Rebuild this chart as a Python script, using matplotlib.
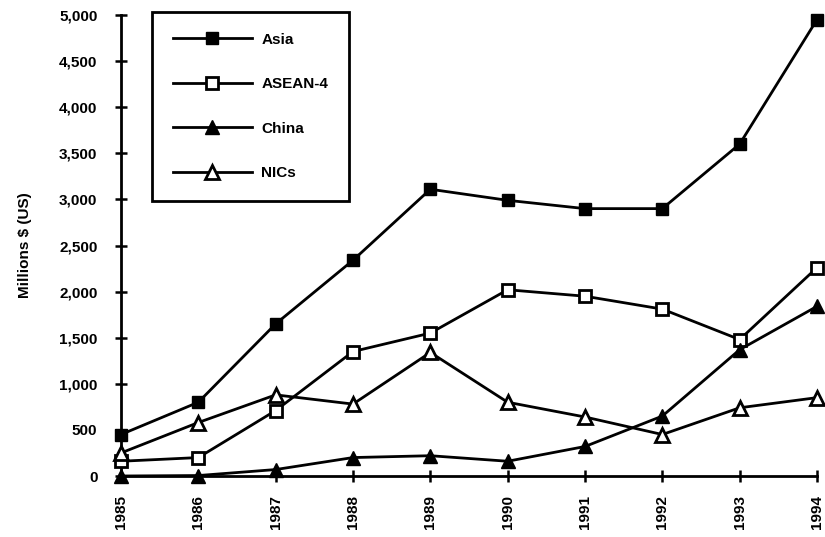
import matplotlib
matplotlib.use("Agg")
import matplotlib.pyplot as plt

plt.rcParams["font.family"] = ["Liberation Sans", "DejaVu Sans"]
plt.rcParams["font.weight"] = "bold"

years = [1985, 1986, 1987, 1988, 1989, 1990, 1991, 1992, 1993, 1994]
asia = [450, 800, 1650, 2340, 3110, 2990, 2900, 2900, 3600, 4950]
asean4 = [160, 200, 710, 1350, 1550, 2020, 1950, 1810, 1480, 2260]
china = [0, 5, 70, 200, 220, 160, 320, 650, 1370, 1840]
nics = [250, 580, 880, 780, 1340, 800, 640, 450, 740, 850]

yticks = list(range(0, 5001, 500))
ytick_labels = [f"{v:,}" for v in yticks]

fig = plt.figure(figsize=(8.25, 5.37), dpi=100)
ax = fig.add_axes([121/825, 1 - 476/537, (817 - 121)/825, (476 - 15)/537])

lw = 2.0
ax.plot(years, asia, color="black", lw=lw, marker="s", ms=8, mfc="black",
        mec="black", label="Asia", clip_on=False, zorder=3)
ax.plot(years, asean4, color="black", lw=lw, marker="s", ms=8, mfc="white",
        mec="black", mew=2, label="ASEAN-4", clip_on=False, zorder=3)
ax.plot(years, china, color="black", lw=lw, marker="^", ms=10, mfc="black",
        mec="black", label="China", clip_on=False, zorder=3)
ax.plot(years, nics, color="black", lw=lw, marker="^", ms=10, mfc="white",
        mec="black", mew=2, label="NICs", clip_on=False, zorder=3)

ax.set_xlim(1985, 1994)
ax.set_ylim(0, 5000)
ax.set_xticks(years)
ax.set_xticklabels([str(y) for y in years], rotation=90, fontsize=11, fontweight="bold")
ax.set_yticks(yticks)
ax.set_yticklabels(ytick_labels, fontsize=11, fontweight="bold")
ax.tick_params(axis="both", direction="inout", length=8, width=1.8, color="black")
ax.tick_params(axis="y", pad=13)
ax.tick_params(axis="x", pad=10)

for side in ["top", "right"]:
    ax.spines[side].set_visible(False)
for side in ["left", "bottom"]:
    ax.spines[side].set_linewidth(2)

ax.set_ylabel("Millions $ (US)", fontsize=11, fontweight="bold")
ax.yaxis.set_label_coords(-0.128, 0.5)

leg = ax.legend(loc="upper left", bbox_to_anchor=(152/825, 1 - 12/537),
                bbox_transform=fig.transFigure, frameon=True, fancybox=False,
                numpoints=1, handlelength=5.2, labelspacing=2.0, borderaxespad=0,
                borderpad=1.35, handletextpad=0.6, prop={"size": 11, "weight": "bold"})
leg.get_frame().set_edgecolor("black")
leg.get_frame().set_linewidth(2)
leg.get_frame().set_alpha(1)

fig.savefig("out.png", dpi=100)
